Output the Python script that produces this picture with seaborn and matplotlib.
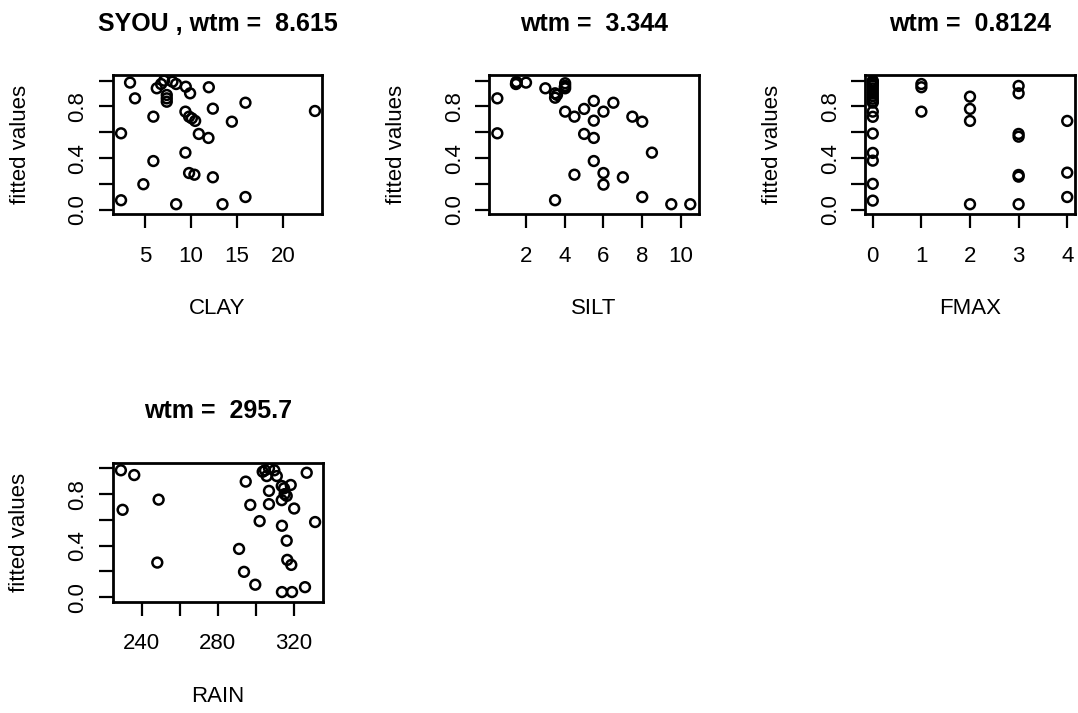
import matplotlib
matplotlib.use("Agg")
import matplotlib.pyplot as plt
import seaborn as sns
import pandas as pd

# Fitted values plotted against each predictor
clay_x = [3.36, 3.9, 2.38, 2.38, 4.81, 5.9, 5.9, 6.27, 6.74, 7.07, 7.36, 7.36, 7.36,
          7.98, 8.38, 8.38, 9.43, 9.9, 9.39, 9.79, 10.09, 10.45, 10.85, 11.9, 9.39,
          9.79, 10.37, 11.94, 12.38, 12.38, 13.43, 14.45, 15.93, 15.93, 23.5]
clay_y = [0.985, 0.863, 0.592, 0.073, 0.197, 0.377, 0.721, 0.941, 0.974, 1.0, 0.889,
          0.863, 0.837, 0.992, 0.974, 0.042, 0.953, 0.902, 0.76, 0.721, 0.708, 0.688,
          0.587, 0.556, 0.442, 0.284, 0.271, 0.949, 0.783, 0.251, 0.042, 0.682,
          0.829, 0.098, 0.765]

silt_x = [0.52, 0.52, 1.48, 1.52, 2.0, 3.0, 3.5, 3.5, 4.02, 4.02, 4.02, 4.02, 4.5,
          5.0, 5.5, 5.5, 6.0, 6.51, 7.49, 8.0, 5.0, 5.5, 8.5, 5.5, 6.0, 6.0, 4.5,
          7.0, 3.5, 8.0, 9.5, 10.48, 1.5, 4.0, 3.6]
silt_y = [0.863, 0.592, 0.974, 0.985, 0.985, 0.941, 0.902, 0.868, 0.98, 0.941, 0.96,
          0.76, 0.721, 0.781, 0.843, 0.69, 0.76, 0.829, 0.721, 0.682, 0.587, 0.556,
          0.442, 0.377, 0.284, 0.194, 0.271, 0.251, 0.073, 0.098, 0.042, 0.042,
          0.99, 0.95, 0.89]

fmax_x = [0] * 18 + [1, 1, 1] + [2, 2, 2, 2] + [3, 3, 3, 3, 3, 3, 3] + [4, 4, 4]
fmax_y = [1.0, 0.99, 0.975, 0.96, 0.94, 0.92, 0.90, 0.88, 0.86, 0.84, 0.83, 0.76,
          0.72, 0.59, 0.44, 0.38, 0.2, 0.07,
          0.974, 0.949, 0.76,
          0.876, 0.781, 0.688, 0.042,
          0.959, 0.902, 0.587, 0.566, 0.269, 0.256, 0.042,
          0.688, 0.287, 0.098]

rain_x = [229.1, 236.1, 230.0, 248.9, 248.2, 291.1, 293.7, 294.6, 297.0, 299.6,
          301.9, 303.5, 304.7, 305.6, 306.8, 306.8, 306.8, 309.6, 310.9, 313.5,
          314.7, 313.5, 316.1, 318.2, 320.0, 313.6, 316.1, 316.4, 318.5, 313.6,
          318.9, 325.7, 326.6, 331.0, 315.0]
rain_y = [0.985, 0.948, 0.678, 0.757, 0.268, 0.374, 0.196, 0.897, 0.716, 0.096,
          0.59, 0.974, 0.985, 0.94, 1.0, 0.825, 0.722, 0.985, 0.94, 0.863, 0.845,
          0.753, 0.786, 0.871, 0.688, 0.554, 0.438, 0.289, 0.25, 0.039, 0.039,
          0.077, 0.966, 0.583, 0.80]

panel_names = ["CLAY", "SILT", "FMAX", "RAIN"]
panel_titles = ["SYOU , wtm =  8.615", "wtm =  3.344", "wtm =  0.8124", "wtm =  295.7"]
x_ticks = [[5, 10, 15, 20], [2, 4, 6, 8, 10], [0, 1, 2, 3, 4], [240, 260, 280, 300, 320]]
x_ticklabels = [["5", "10", "15", "20"], ["2", "4", "6", "8", "10"],
                ["0", "1", "2", "3", "4"], ["240", "", "280", "", "320"]]
x_limits = [(1.47, 24.3), (0.09, 10.93), (-0.16, 4.16), (224.8, 335.3)]
y_ticks = [0.0, 0.2, 0.4, 0.6, 0.8, 1.0]
y_ticklabels = ["0.0", "", "0.4", "", "0.8", ""]

series = [(clay_x, clay_y), (silt_x, silt_y), (fmax_x, fmax_y), (rain_x, rain_y)]

sns.set_style("white")
plt.rcParams["font.family"] = ["Liberation Sans", "DejaVu Sans"]
plt.rcParams["text.color"] = "black"
plt.rcParams["axes.labelcolor"] = "black"

fig = plt.figure(figsize=(10.78, 7.13), dpi=100)
W, H = 1078, 713
# panel boxes in pixels: left, top, right, bottom
boxes = [(112.7, 75.0, 322.3, 214.3), (489.0, 75.0, 699.0, 214.3),
         (865.0, 75.0, 1075.0, 214.3), (112.7, 462.7, 323.3, 601.7)]

for i, (xs, ys) in enumerate(series):
    l, t, r, b = boxes[i]
    h = b - t
    ax = fig.add_axes([l / W, 1 - b / H, (r - l) / W, h / H])
    df = pd.DataFrame({panel_names[i]: xs, "fitted values": ys})
    sns.scatterplot(data=df, x=panel_names[i], y="fitted values", ax=ax,
                    marker="o", s=50, facecolors="none", edgecolors="black",
                    linewidths=1.8)
    ax.set_xlim(*x_limits[i])
    ax.set_ylim(-0.036, 1.044)
    ax.set_xticks(x_ticks[i])
    ax.set_xticklabels(x_ticklabels[i])
    ax.set_yticks(y_ticks)
    ax.set_yticklabels(y_ticklabels, rotation=90, va="center")
    ax.tick_params(axis="both", direction="out", length=10, width=1.6,
                   color="black", labelsize=16, labelcolor="black",
                   bottom=True, left=True)
    ax.tick_params(axis="x", pad=12.5)
    ax.tick_params(axis="y", pad=7.5)
    for sp in ax.spines.values():
        sp.set_visible(True)
        sp.set_color("black")
        sp.set_linewidth(2.0)
    ax.set_xlabel(panel_names[i], fontsize=16, va="center")
    ax.xaxis.set_label_coords(0.5, -(309 - 214.3) / h)
    ax.set_ylabel("fitted values", fontsize=16, va="center")
    ax.yaxis.set_label_coords(-0.442, 0.5)
    ax.set_title(panel_titles[i], fontsize=18, fontweight="bold",
                 y=1 + 43 / h, va="center")

fig.savefig("out.png", dpi=100, facecolor="white")
